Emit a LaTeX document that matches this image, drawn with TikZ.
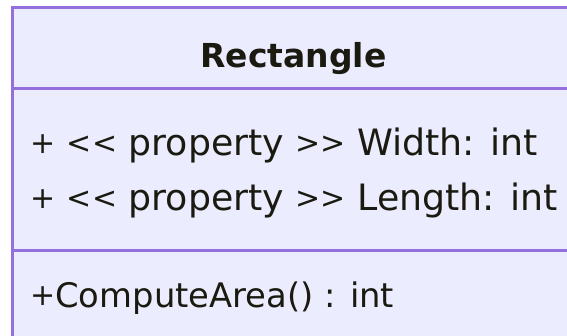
\documentclass[tikz,border=0pt]{standalone}
\usepackage{fontspec}
\newfontfamily\umlfont{DejaVu Sans}
\definecolor{boxfill}{HTML}{ECECFF}
\definecolor{boxline}{HTML}{9370DB}
\definecolor{txt}{HTML}{1A1A10}
\newcommand\umlsym[1]{{\fontsize{30}{30}\selectfont\raisebox{2pt}{#1}}}
\begin{document}
\begin{tikzpicture}[x=1pt,y=-1pt,
  member/.style={anchor=base west,inner sep=0pt,text=txt,font=\umlfont\fontsize{36.3}{36.3}\selectfont},
  method/.style={anchor=base west,inner sep=0pt,text=txt,font=\umlfont\fontsize{33.8}{33.8}\selectfont},
  title/.style={anchor=base,inner sep=0pt,text=txt,font=\umlfont\fontsize{33}{33}\selectfont\bfseries},
  divider/.style={draw=boxline,line width=3pt}]
\useasboundingbox (0,0) rectangle (567,335);
\clip (0,0) rectangle (567,335);
\path[fill=boxfill,draw=boxline,line width=3pt] (12.5,7) rectangle (600,360);
\draw[divider] (12.5,88) -- (600,88);
\draw[divider] (12.5,250) -- (600,250);
\node[title] (cls) at (293.5,67) {Rectangle};
\node[member] (a1) at (30,155) {\umlsym{+} \umlsym{<<} property \umlsym{>>} Width: int};
\node[member] (a2) at (30,210) {\umlsym{+} \umlsym{<<} property \umlsym{>>} Length: int};
\node[method] (m1) at (30,307) {\umlsym{+}ComputeArea() : int};
\end{tikzpicture}
\end{document}
